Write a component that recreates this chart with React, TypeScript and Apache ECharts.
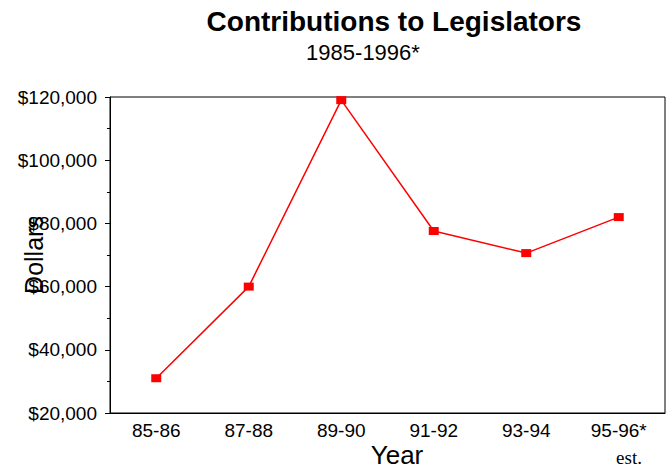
import React, { useEffect, useRef } from "react";
import * as echarts from "echarts";

const categories = ["85-86", "87-88", "89-90", "91-92", "93-94", "95-96*"];
const contributions = [31000, 60000, 119000, 77600, 70600, 82000];
const yTicks = { min: 20000, max: 120000, interval: 20000 };

export default function App() {
  const ref = useRef<HTMLDivElement>(null);
  useEffect(() => {
    if (!ref.current) return;
    const chart = echarts.init(ref.current, null, { renderer: "svg" });
    const font = "Liberation Sans, Arial, sans-serif";
    chart.setOption({
      animation: false,
      backgroundColor: "#ffffff",
      title: [
        {
          text: "Contributions to Legislators",
          left: 389,
          top: 2,
          textAlign: "center",
          textStyle: { fontFamily: font, fontSize: 28, fontWeight: "bold", color: "#000" },
        },
        {
          text: "1985-1996*",
          left: 358,
          top: 36,
          textAlign: "center",
          textStyle: { fontFamily: font, fontSize: 22, fontWeight: "normal", color: "#000" },
        },
      ],
      grid: {
        left: 110,
        right: 7,
        top: 97,
        bottom: 54,
        show: true,
        borderColor: "#000",
        borderWidth: 1,
        containLabel: false,
        outerBoundsMode: "none",
      },
      xAxis: {
        type: "category",
        data: categories,
        boundaryGap: true,
        axisLine: { lineStyle: { color: "#000", width: 1 } },
        axisTick: { alignWithLabel: true, length: 5, lineStyle: { color: "#000" } },
        axisLabel: { fontFamily: font, fontSize: 19, color: "#000", margin: 8 },
        splitLine: { show: false },
      },
      yAxis: {
        type: "value",
        min: yTicks.min,
        max: yTicks.max,
        interval: yTicks.interval,
        name: "Dollars",
        nameLocation: "middle",
        nameGap: 64,
        nameRotate: 90,
        nameMoveOverlap: false,
        nameTextStyle: { fontFamily: font, fontSize: 25, color: "#000" },
        axisLine: { show: true, lineStyle: { color: "#000", width: 1 } },
        axisTick: { show: true, length: 5, lineStyle: { color: "#000" } },
        minorTick: { show: true, splitNumber: 2, length: 3, lineStyle: { color: "#000" } },
        axisLabel: {
          fontFamily: font,
          fontSize: 19,
          color: "#000",
          margin: 13,
          formatter: (v: number) => "$" + v.toLocaleString("en-US"),
        },
        splitLine: { show: false },
      },
      graphic: [
        {
          type: "text",
          x: 397,
          y: 455,
          style: {
            text: "Year",
            font: "26px 'Liberation Sans', Arial, sans-serif",
            fill: "#000",
            align: "center",
            verticalAlign: "middle",
          },
        },
        {
          type: "text",
          x: 629,
          y: 467,
          style: {
            text: "est.",
            font: "19px 'Liberation Serif', 'Times New Roman', serif",
            fill: "#000",
            align: "center",
            verticalAlign: "bottom",
          },
        },
      ],
      series: [
        {
          type: "line",
          data: contributions,
          symbol: "rect",
          symbolSize: [10, 8],
          itemStyle: { color: "#ff0000" },
          lineStyle: { color: "#ff0000", width: 1.5 },
        },
      ],
    });
    return () => chart.dispose();
  }, []);
  return <div ref={ref} style={{ width: 672, height: 467, position: "absolute", left: 0, top: 0 }} />;
}
